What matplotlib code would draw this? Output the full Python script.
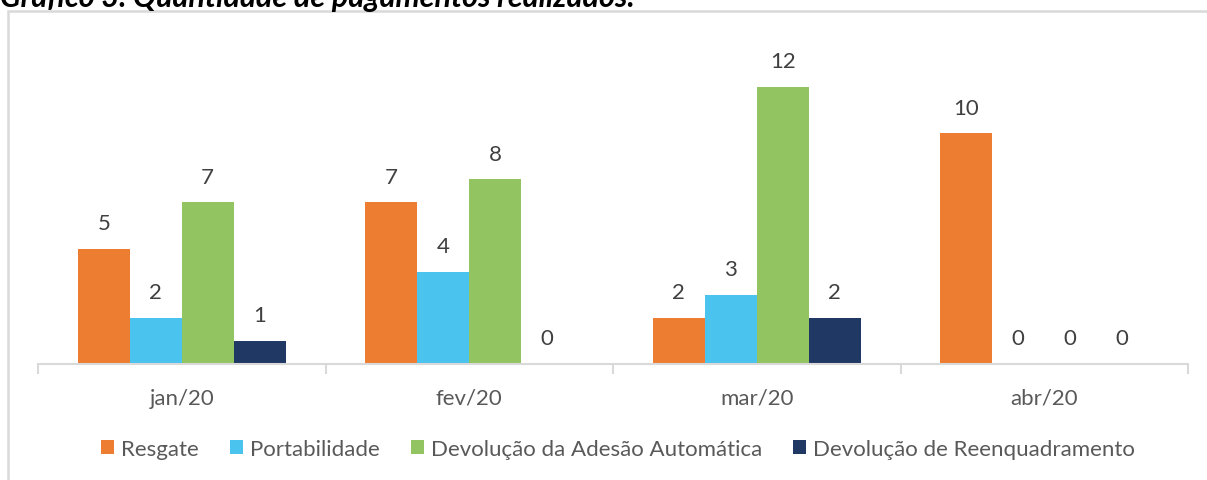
import matplotlib
matplotlib.use("Agg")
import matplotlib.pyplot as plt
import numpy as np
from matplotlib.patches import Rectangle, Patch

categories = ["jan/20", "fev/20", "mar/20", "abr/20"]
series_names = ["Resgate", "Portabilidade", "Devolução da Adesão Automática",
                "Devolução de Reenquadramento"]
resgate = [5, 7, 2, 10]
portabilidade = [2, 4, 3, 0]
devol_adesao = [7, 8, 12, 0]
devol_reenq = [1, 0, 2, 0]
colors = ["#ED7D31", "#4AC3EE", "#93C462", "#203864"]
title = "Gráfico 3. Quantidade de pagamentos realizados."

W, H = 1207, 481
fig = plt.figure(figsize=(W / 100, H / 100), dpi=100)
plt.rcParams['font.family'] = ['Lato', 'DejaVu Sans']
text_color = "#595959"
fs = 16

# outer chart border (extends past the image on right/bottom)
fig.patches.append(Rectangle((8 / W, -0.1), 1.2, (H - 12) / H + 0.1, transform=fig.transFigure,
                             fill=False, edgecolor="#D9D9D9", linewidth=1.8))
fig.text(0, 1 - 7 / H, title, fontsize=22, fontweight="bold", fontstyle="italic",
         ha="left", va="baseline", color="black")

ax = fig.add_axes([38 / W, (H - 365) / H, (1188 - 38) / W, (365 - 30) / H])
series = [resgate, portabilidade, devol_adesao, devol_reenq]
n = len(series)
bw = 52 / 287.5
x = np.arange(len(categories))
for i, (vals, c, name) in enumerate(zip(series, colors, series_names)):
    pos = x + (i - (n - 1) / 2) * bw
    ax.bar(pos, vals, width=bw, color=c, label=name)
    for p, v in zip(pos, vals):
        ax.annotate(str(v), (p, v), xytext=(0, 18.5), textcoords="offset points",
                    ha="center", va="center", fontsize=fs, color="#404040")

ax.set_xlim(-0.5, len(categories) - 0.5)
ax.set_ylim(0, (365 - 30) / 23.08)
for s in ["top", "right", "left"]:
    ax.spines[s].set_visible(False)
ax.spines["bottom"].set_color("#D9D9D9")
ax.spines["bottom"].set_linewidth(1.5)
ax.set_yticks([])
ax.set_xticks(np.arange(-0.5, len(categories), 1.0))
ax.set_xticklabels([])
ax.tick_params(axis="x", length=7, width=1.5, color="#D9D9D9")
ax.set_xticks(x, minor=True)
ax.set_xticklabels(categories, minor=True)
ax.tick_params(axis="x", which="minor", length=0, pad=17, labelsize=fs, labelcolor=text_color)

handles = [Patch(facecolor=c, label=nm) for c, nm in zip(colors, series_names)]
fig.legend(handles=handles, loc="center", bbox_to_anchor=(618 / W, 1 - 450 / H), ncol=4,
           frameon=False, fontsize=fs, labelcolor=text_color, handlelength=0.6,
           handleheight=0.6, handletextpad=0.3, columnspacing=1.4)

fig.savefig("out.png", dpi=100)
